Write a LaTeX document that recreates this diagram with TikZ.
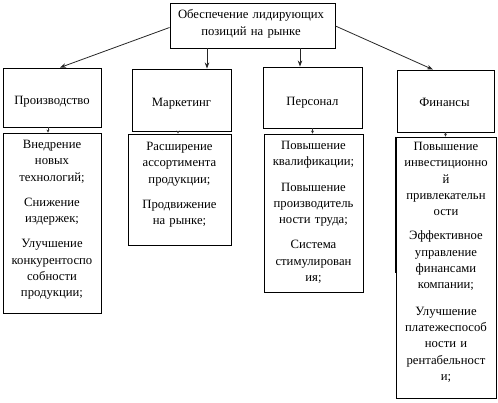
\documentclass[tikz,border=0pt]{standalone}
\usepackage{fontspec}
\setmainfont{Liberation Serif}
\newfontfamily\diagfont{Liberation Serif}
\usetikzlibrary{arrows.meta,calc}
\begin{document}
\begin{tikzpicture}[x=1pt,y=-1pt,
  box/.style={draw=black, line width=0.9pt, inner sep=0pt, fill=white},
  txt/.style={font=\diagfont\fontsize{12.7}{16.3}\selectfont, align=center, inner sep=0pt, text width=100pt, anchor=base},
  lbl/.style={font=\diagfont\fontsize{12.7}{16.3}\selectfont, inner sep=0pt, anchor=base},
  arr/.style={draw=black!85, line width=0.8pt, -{Stealth[length=6pt,width=4.5pt]}},
  sarr/.style={draw=black!80, line width=0.6pt, -{Stealth[length=3pt,width=3pt]}}]
\useasboundingbox (0,0) rectangle (498,403);
% top
\node[box, minimum width=165pt, minimum height=45pt] (top) at (252.5,25.5) {};
\node[txt, text width=160pt] (toptxt) at (251,18.5) {Обеспечение лидирующих\\[0.7pt]позиций на рынке};
% categories
\node[box, minimum width=98pt, minimum height=59pt] (P) at (52,97.5) {};
\node[lbl] (Ptxt) at (52,105) {Производство};
\node[box, minimum width=99pt, minimum height=62pt] (M) at (181.5,100) {};
\node[lbl] (Mtxt) at (181.5,106.5) {Маркетинг};
\node[box, minimum width=99pt, minimum height=61pt] (Pe) at (312.5,97.5) {};
\node[lbl] (Petxt) at (312.5,106) {Персонал};
\node[box, minimum width=97pt, minimum height=62pt] (F) at (445.5,101) {};
\node[lbl] (Ftxt) at (444.5,107) {Финансы};
% detail boxes
\node[box, minimum width=98pt, minimum height=180pt] (dP) at (52,223) {};
\node[txt] (dPtxt) at (52,148.5) {Внедрение\\новых\\технологий;\\[9pt]Снижение\\издержек;\\[9pt]Улучшение\\конкурентоспо\\собности\\продукции;};
\node[box, minimum width=103pt, minimum height=111pt] (dM) at (179.5,189.5) {};
\node[txt] (dMtxt) at (179.5,150.5) {Расширение\\ассортимента\\продукции;\\[9pt]Продвижение\\на рынке;};
\node[box, minimum width=99pt, minimum height=158pt] (dPe) at (313.5,213) {};
\node[txt] (dPetxt) at (313.5,149.5) {Повышение\\квалификации;\\[9pt]Повышение\\производитель\\ности труда;\\[9pt]Система\\стимулирован\\ия;};
\node[box, minimum width=100pt, minimum height=261pt] (dF) at (446,267.5) {};
\draw[line width=1.4pt] ([xshift=-0.3pt]dF.north west) -- ([xshift=-0.3pt]dF.north west |- 0,273);
\node[txt] (dFtxt) at (446,150.5) {Повышение\\инвестиционно\\й\\привлекательн\\ости\\[8pt]Эффективное\\управление\\финансами\\компании;\\[10pt]Улучшение\\платежеспособ\\ности и\\рентабельност\\и;};
% connectors from top
\coordinate (pT) at ([xshift=8pt]P.north);
\coordinate (mT) at ([xshift=25.5pt]M.north);
\coordinate (peT) at ([xshift=-12.5pt]Pe.north);
\coordinate (fT) at ([xshift=-12.5pt]F.north);
\draw[arr] ([yshift=-2pt]top.west) -- (pT);
\draw[arr] (top.south -| mT) -- (mT);
\draw[arr] (top.south -| peT) -- (peT);
\draw[arr] ([yshift=-0.5pt]top.east) -- (fT);
% small connectors
\draw[sarr] ([xshift=-4pt]P.south) -- ([xshift=-4pt]P.south |- dP.north);
\draw[sarr] ([xshift=-3.5pt]M.south) -- ([xshift=-3.5pt]M.south |- dM.north);
\draw[sarr] (Pe.south) -- (Pe.south |- dPe.north);
\draw[sarr] (F.south) -- (F.south |- dF.north);
\end{tikzpicture}
\end{document}
